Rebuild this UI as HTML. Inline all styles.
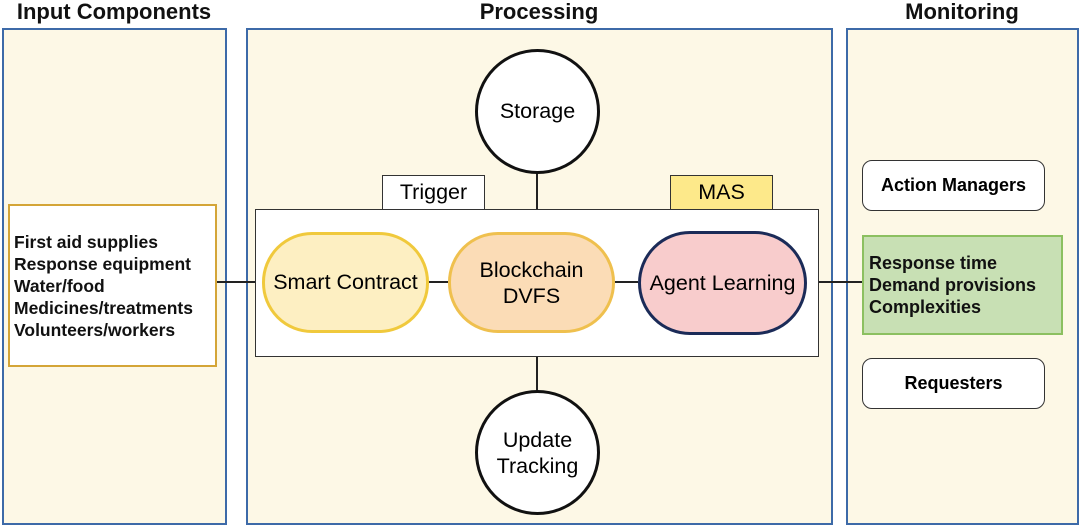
<!DOCTYPE html><html><head><style>
body{margin:0;width:1080px;height:527px;background:#fff;position:relative;font-family:"Liberation Sans",sans-serif;overflow:hidden}
.a{position:absolute;box-sizing:border-box}
.t{font-weight:bold;font-size:22px;color:#111;text-align:center}
.p{background:#fdf8e6;border:2px solid #3d6aa8}
.c{display:flex;align-items:center;justify-content:center;text-align:center}
.l{background:#222}
</style></head><body>
<div class="a t" style="left:2px;top:-1px;width:224px">Input Components</div>
<div class="a t" style="left:246px;top:-1px;width:586px">Processing</div>
<div class="a t" style="left:846px;top:-1px;width:232px">Monitoring</div>
<div class="a p" style="left:2px;top:28px;width:225px;height:497px"></div>
<div class="a p" style="left:246px;top:28px;width:587px;height:497px"></div>
<div class="a p" style="left:846px;top:28px;width:233px;height:497px"></div>

<div class="a l" style="left:216px;top:281px;width:646px;height:2px"></div>
<div class="a l" style="left:536px;top:170px;width:2px;height:224px"></div>

<div class="a" style="left:8px;top:204px;width:209px;height:163px;background:#fff;border:2px solid #d4a537;padding:25px 0 0 4px;font-weight:bold;font-size:17.5px;line-height:22px;color:#111">First aid supplies<br>Response equipment<br>Water/food<br>Medicines/treatments<br>Volunteers/workers</div>

<div class="a" style="left:255px;top:209px;width:564px;height:148px;background:#fff;border:1.5px solid #333"></div>
<div class="a l" style="left:428px;top:281px;width:210px;height:2px"></div>
<div class="a c" style="left:382px;top:175px;width:103px;height:35px;background:#fff;border:1.5px solid #333;font-size:21.5px">Trigger</div>
<div class="a c" style="left:670px;top:175px;width:103px;height:35px;background:#fde98a;border:1.5px solid #333;font-size:21.5px">MAS</div>

<div class="a c" style="left:475px;top:49px;width:125px;height:125px;border-radius:50%;background:#fff;border:3px solid #111;font-size:21.5px">Storage</div>
<div class="a c" style="left:475px;top:390px;width:125px;height:125px;border-radius:50%;background:#fff;border:3px solid #111;font-size:21.5px;line-height:26px">Update<br>Tracking</div>

<div class="a c" style="left:262px;top:232px;width:167px;height:101px;border-radius:50px;background:#fdefc2;border:3px solid #f0c93c;font-size:21.5px">Smart Contract</div>
<div class="a c" style="left:448px;top:232px;width:167px;height:101px;border-radius:50px;background:#fbdcb6;border:3px solid #efc04e;font-size:21.5px;line-height:26px">Blockchain<br>DVFS</div>
<div class="a c" style="left:638px;top:231px;width:169px;height:104px;border-radius:52px;background:#f8cccc;border:3px solid #1b2b58;font-size:21.5px">Agent Learning</div>

<div class="a c" style="left:862px;top:160px;width:183px;height:51px;border-radius:10px;background:#fff;border:1.5px solid #333;font-weight:bold;font-size:18px">Action Managers</div>
<div class="a" style="left:862px;top:235px;width:201px;height:100px;background:#c8e0b4;border:2px solid #8cc060;padding:15px 0 0 5px;font-weight:bold;font-size:18px;line-height:22px;color:#111">Response time<br>Demand provisions<br>Complexities</div>
<div class="a c" style="left:862px;top:358px;width:183px;height:51px;border-radius:10px;background:#fff;border:1.5px solid #333;font-weight:bold;font-size:18px">Requesters</div>
</body></html>
